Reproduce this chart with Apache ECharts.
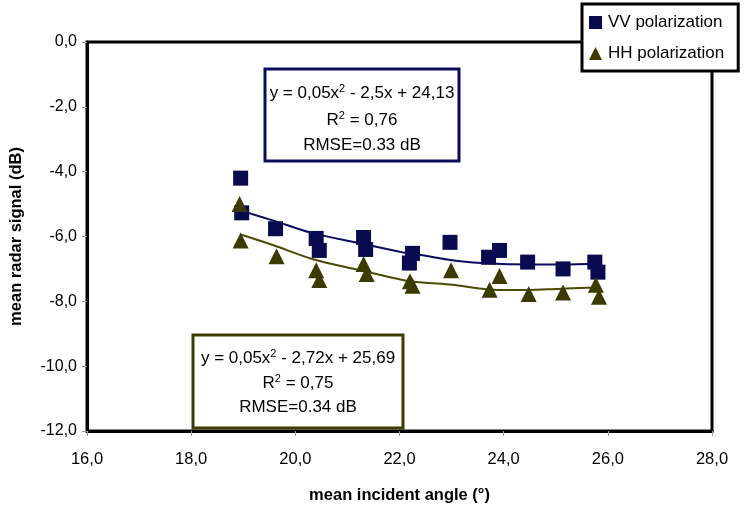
<!DOCTYPE html>
<html>
<head>
<meta charset="utf-8">
<script src="https://cdn.jsdelivr.net/npm/echarts@6/dist/echarts.min.js"></script>
<style>html,body{margin:0;padding:0;background:#fff;}#c{width:749px;height:509px;}</style>
</head>
<body>
<div id="c"></div>
<script>
// VV polarization (squares)
var vvX = [18.95, 18.97, 19.62, 20.40, 20.46, 21.31, 21.35, 22.25, 22.19, 22.97, 23.71, 23.92, 24.46, 25.14, 25.75, 25.81];
var vvY = [-4.20, -5.27, -5.76, -6.06, -6.43, -6.03, -6.40, -6.52, -6.82, -6.18, -6.64, -6.43, -6.79, -7.00, -6.79, -7.10];
// HH polarization (triangles)
var hhX = [18.93, 18.95, 19.64, 20.40, 20.46, 21.31, 21.37, 22.20, 22.25, 22.99, 23.73, 23.92, 24.48, 25.14, 25.77, 25.83];
var hhY = [-5.00, -6.12, -6.61, -7.04, -7.34, -6.85, -7.16, -7.38, -7.52, -7.04, -7.64, -7.22, -7.77, -7.73, -7.49, -7.86];
// trend lines as drawn
var vvTrendX = [18.91, 19.58, 20.29, 21.24, 22.06, 22.44, 23.01, 23.58, 23.96, 24.60, 25.20, 25.62, 25.83];
var vvTrendY = [-5.18, -5.51, -5.88, -6.21, -6.49, -6.58, -6.73, -6.82, -6.85, -6.86, -6.86, -6.85, -6.85];
var hhTrendX = [18.95, 19.58, 20.34, 21.24, 22.06, 22.44, 23.01, 23.58, 23.96, 24.48, 25.00, 25.62, 25.83];
var hhTrendY = [-5.94, -6.27, -6.70, -7.04, -7.34, -7.42, -7.49, -7.61, -7.65, -7.65, -7.62, -7.58, -7.58];

var seriesNames = ['VV polarization', 'HH polarization'];
var xTickLabels = ['16,0', '18,0', '20,0', '22,0', '24,0', '26,0', '28,0'];
var yTickLabels = ['-12,0', '-10,0', '-8,0', '-6,0', '-4,0', '-2,0', '0,0'];
var xName = 'mean incident angle (°)';
var yName = 'mean radar signal (dB)';
var eqVV = ['y = 0,05x{sup|2} - 2,5x + 24,13', 'R{sup|2} = 0,76', 'RMSE=0.33 dB'];
var eqHH = ['y = 0,05x{sup|2} - 2,72x + 25,69', 'R{sup|2} = 0,75', 'RMSE=0.34 dB'];

function zip(a, b) { return a.map(function (v, i) { return [v, b[i]]; }); }

var VV = '#0a0a50';
var HH = '#3b3b00';
var FONT = '"Liberation Sans", Arial, sans-serif';

var chart = echarts.init(document.getElementById('c'), null, { renderer: 'canvas' });
var graphics = [
  { type: 'rect', z: 100, shape: { x: 265, y: 69, width: 194, height: 92 },
    style: { fill: '#fff', stroke: '#0b0b5a', lineWidth: 3 } },
  { type: 'rect', z: 100, shape: { x: 193, y: 335, width: 210, height: 93 },
    style: { fill: '#fff', stroke: '#3d3d00', lineWidth: 3 } }
];
function addText(lines, cx, ys) {
  lines.forEach(function (t, i) {
    graphics.push({
      type: 'text', z: 101,
      style: {
        text: t, x: cx, y: ys[i], align: 'center', verticalAlign: 'middle',
        fontSize: 17, fontFamily: FONT, fill: '#000',
        rich: { sup: { fontSize: 11, fontFamily: FONT, verticalAlign: 'top', padding: [0, 0, 8, 0] } }
      }
    });
  });
}
addText(eqVV, 362, [93, 120, 145]);
addText(eqHH, 298, [358, 383, 407]);

chart.setOption({
  animation: false,
  backgroundColor: '#fff',
  textStyle: { fontFamily: FONT },
  grid: { left: 82, right: 37, top: 42, bottom: 73, show: true, borderColor: '#000', borderWidth: 3, backgroundColor: 'transparent' },
  legend: {
    orient: 'vertical', left: 582, top: 4,
    data: [{ name: seriesNames[0], icon: 'rect' }, { name: seriesNames[1], icon: 'triangle' }],
    itemWidth: 13, itemHeight: 13, itemGap: 14,
    padding: [10, 14, 9, 7],
    borderColor: '#000', borderWidth: 3, backgroundColor: '#fff',
    textStyle: { fontSize: 17, color: '#000', fontFamily: FONT, padding: [0, 0, 0, 1] },
    z: 120
  },
  xAxis: {
    type: 'value', min: 16, max: 28, interval: 2,
    name: xName, nameLocation: 'middle', nameGap: 56,
    nameTextStyle: { fontSize: 16.5, fontWeight: 'bold', color: '#000', fontFamily: FONT },
    axisLine: { show: true, onZero: false, lineStyle: { color: '#000', width: 3 } },
    axisTick: { show: true, length: 5, lineStyle: { color: '#999', width: 1 } },
    axisLabel: { fontSize: 16.5, color: '#000', margin: 20, fontFamily: FONT,
      formatter: function (v) { return xTickLabels[Math.round((v - 16) / 2)]; } },
    splitLine: { show: false }
  },
  yAxis: {
    type: 'value', min: -12, max: 0, interval: 2,
    name: yName, nameLocation: 'middle', nameGap: 62, nameRotate: 90,
    nameTextStyle: { fontSize: 16.5, fontWeight: 'bold', color: '#000', fontFamily: FONT },
    axisLine: { show: true, onZero: false, lineStyle: { color: '#000', width: 3 } },
    axisTick: { show: true, length: 5, lineStyle: { color: '#999', width: 1 } },
    axisLabel: { fontSize: 16, color: '#000', margin: 10, fontFamily: FONT,
      formatter: function (v) { return yTickLabels[Math.round((v + 12) / 2)]; } },
    splitLine: { show: false }
  },
  series: [
    { name: 'VV trend', type: 'line', data: zip(vvTrendX, vvTrendY), showSymbol: false, smooth: 0.3,
      lineStyle: { color: '#0b0b5f', width: 2 }, z: 2, silent: true },
    { name: 'HH trend', type: 'line', data: zip(hhTrendX, hhTrendY), showSymbol: false, smooth: 0.3,
      lineStyle: { color: '#4a4a00', width: 2 }, z: 2, silent: true },
    { name: seriesNames[0], type: 'scatter', data: zip(vvX, vvY), symbol: 'rect', symbolSize: 15,
      itemStyle: { color: VV, opacity: 1 }, z: 3 },
    { name: seriesNames[1], type: 'scatter', data: zip(hhX, hhY), symbol: 'triangle', symbolSize: 16,
      itemStyle: { color: HH, opacity: 1 }, z: 4 }
  ],
  graphic: graphics
});
</script>
</body>
</html>
